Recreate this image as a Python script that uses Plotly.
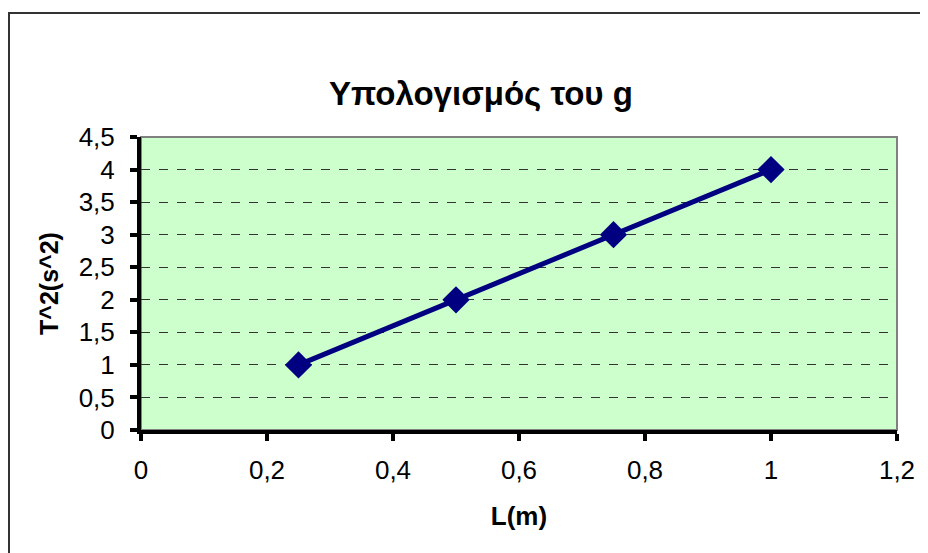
import plotly.graph_objects as go

L_values = [0.25, 0.5, 0.75, 1.0]
T2_values = [1.0, 2.0, 3.0, 4.0]
x_ticks = [0, 0.2, 0.4, 0.6, 0.8, 1.0, 1.2]
y_ticks = [0, 0.5, 1, 1.5, 2, 2.5, 3, 3.5, 4, 4.5]

W, H = 928, 553
OFF = 8  # page offset of the plot div
L0, R0, T0, B0 = 141 - OFF, 897 - OFF, 137 - OFF, 430 - OFF

def px(x):
    return (x - OFF - L0) / (R0 - L0)

def py(y):
    return (B0 - (y - OFF)) / (B0 - T0)

fig = go.Figure()
fig.add_trace(go.Scatter(
    x=L_values, y=T2_values, mode="lines+markers",
    line=dict(color="#000080", width=5),
    marker=dict(symbol="diamond", size=21, color="#000080"),
    showlegend=False, cliponaxis=False,
))

font = "Liberation Sans, Arial, sans-serif"
fig.update_layout(
    width=W, height=H,
    margin=dict(l=L0, r=W - R0, t=T0, b=H - B0),
    paper_bgcolor="white",
    plot_bgcolor="#CCFFCC",
    separators=", ",
    font=dict(family=font, size=26, color="black"),
    xaxis=dict(
        range=[0, 1.2], tickvals=x_ticks,
        ticktext=[("%g" % v).replace(".", ",") for v in x_ticks],
        showgrid=False, zeroline=False,
        showline=True, linecolor="black", linewidth=4,
        ticks="outside", ticklen=7, tickwidth=4, tickcolor="black",
        ticklabelstandoff=7,
        title=dict(text="<b>L(m)</b>", font=dict(size=26), standoff=24),
    ),
    yaxis=dict(
        range=[0, 4.5], tickvals=y_ticks,
        ticktext=[("%g" % v).replace(".", ",") for v in y_ticks],
        showgrid=True, gridcolor="#333333", griddash="dash", gridwidth=1,
        zeroline=False,
        showline=True, linecolor="black", linewidth=4,
        ticks="outside", ticklen=7, tickwidth=4, tickcolor="black",
        ticklabelstandoff=10,
        title=dict(text="<b>T^2(s^2)</b>", font=dict(size=25), standoff=14),
    ),
    annotations=[
        dict(text="<b>Υπολογισμός του g</b>", x=px(481), y=py(93),
             xref="paper", yref="paper", showarrow=False,
             xanchor="center", yanchor="middle",
             font=dict(size=33, family=font)),
    ],
    shapes=[
        dict(type="rect", xref="paper", yref="paper", x0=0, y0=0, x1=1, y1=1,
             line=dict(color="#808080", width=2), layer="below"),
        dict(type="rect", xref="paper", yref="paper",
             x0=px(9), y0=py(580), x1=px(950), y1=py(13),
             line=dict(color="#333333", width=2)),
    ],
)

fig.write_html("out.html")
